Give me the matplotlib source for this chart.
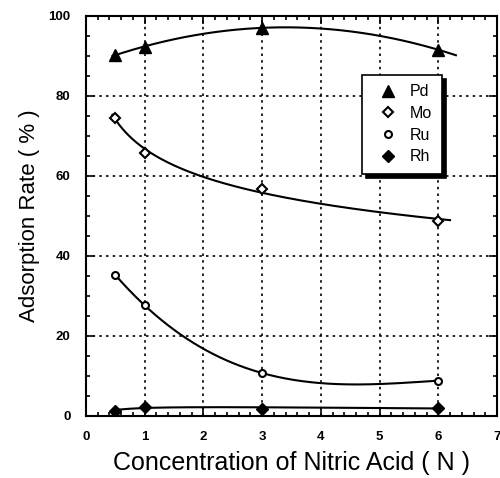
import numpy as np
import matplotlib
matplotlib.use("Agg")
import matplotlib.pyplot as plt
from matplotlib.ticker import MultipleLocator

plt.rcParams['font.family'] = ['Liberation Sans', 'DejaVu Sans']

conc = [0.5, 1, 3, 6]
pd_vals = [90.2, 92.3, 97.0, 91.5]
mo_vals = [74.5, 65.8, 56.7, 48.8]
ru_vals = [35.2, 27.6, 10.7, 8.8]
rh_vals = [1.3, 2.3, 1.8, 2.0]

fig = plt.figure(figsize=(5, 4.78), dpi=100)
ax = fig.add_axes([0.172, 0.130, 0.822, 0.837])

x = np.array(conc)
# fitted trend curves
xp = np.linspace(0.45, 6.3, 200)
cp = np.polyfit(x, pd_vals, 2)
ax.plot(xp, np.polyval(cp, xp), color='black', lw=1.5, zorder=3)

xm = np.linspace(0.45, 6.2, 200)
cm = np.polyfit(np.log(x), mo_vals, 2)
ax.plot(xm, np.polyval(cm, np.log(xm)), color='black', lw=1.5, zorder=3)

xr = np.linspace(0.5, 6.0, 200)
cr = np.polyfit(x, ru_vals, 3)
ax.plot(xr, np.polyval(cr, xr), color='black', lw=1.5, zorder=3)

xh = np.linspace(0.5, 6.0, 200)
ch = np.polyfit(np.log(x), rh_vals, 2)
ax.plot(xh, np.polyval(ch, np.log(xh)), color='black', lw=1.5, zorder=3)

ax.plot(conc, pd_vals, ls='none', marker='^', ms=8, color='black', label='Pd', zorder=4)
ax.plot(conc, mo_vals, ls='none', marker='D', ms=5, mfc='white', mec='black', mew=1.5, label='Mo', zorder=4)
ax.plot(conc, ru_vals, ls='none', marker='o', ms=5, mfc='white', mec='black', mew=1.5, label='Ru', zorder=4)
ax.plot(conc, rh_vals, ls='none', marker='D', ms=6.5, color='black', label='Rh', zorder=4)

ax.set_xlim(0, 7)
ax.set_ylim(0, 100)
ax.xaxis.set_major_locator(MultipleLocator(1))
ax.xaxis.set_minor_locator(MultipleLocator(0.2))
ax.yaxis.set_major_locator(MultipleLocator(20))
ax.yaxis.set_minor_locator(MultipleLocator(5))
ax.tick_params(which='both', direction='in', top=True, right=True, width=1.2)
ax.tick_params(which='major', length=6, labelsize=9.5)
ax.tick_params(axis='x', which='major', pad=11)
ax.tick_params(axis='y', which='major', pad=11)
ax.tick_params(which='minor', length=3)
for lab in ax.get_xticklabels() + ax.get_yticklabels():
    lab.set_fontweight('bold')
for s in ax.spines.values():
    s.set_linewidth(1.5)
ax.grid(True, which='major', ls=(0, (1.5, 2.5)), color='black', lw=1.2)

ax.set_xlabel('Concentration of Nitric Acid ( N )', fontsize=18, labelpad=6)
ax.set_ylabel('Adsorption Rate ( % )', fontsize=16, labelpad=6)

leg = ax.legend(loc='upper left', bbox_to_anchor=(0.672, 0.853), frameon=True,
                fancybox=False, shadow={'color': 'black', 'alpha': 1, 'ox': 3, 'oy': -3},
                fontsize=11.5, handletextpad=0.4, borderaxespad=0,
                borderpad=0.6, labelspacing=0.42, handlelength=2.0)
leg.get_frame().set_edgecolor('black')
leg.get_frame().set_linewidth(1.2)
leg.get_frame().set_alpha(1)
leg.set_zorder(5)

fig.savefig('out.png', dpi=100)
